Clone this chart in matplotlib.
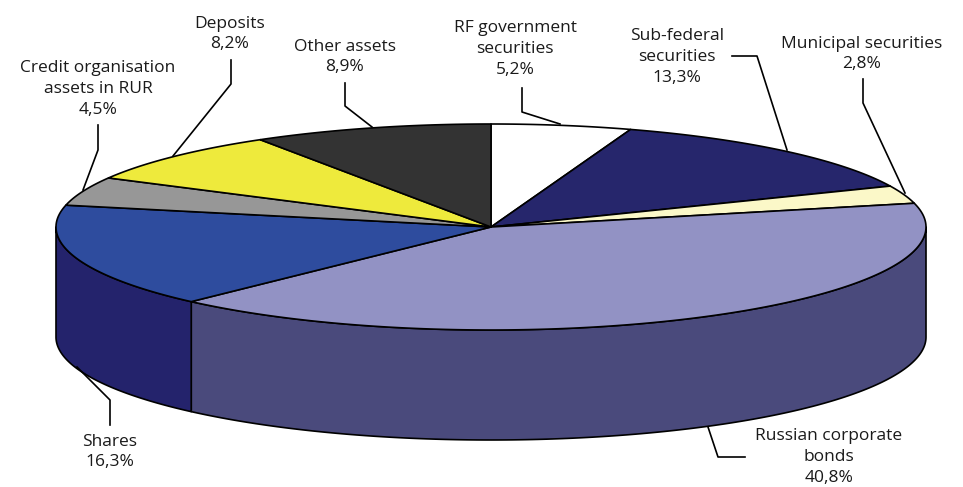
import numpy as np
import matplotlib.pyplot as plt
from matplotlib.patches import Polygon

# Portfolio structure (clockwise from 12 o'clock)
labels = ['RF government\nsecurities', 'Sub-federal\nsecurities', 'Municipal securities',
          'Russian corporate\nbonds', 'Shares', 'Credit organisation\nassets in RUR',
          'Deposits', 'Other assets']
values = [5.2, 13.3, 2.8, 40.8, 16.3, 4.5, 8.2, 8.9]

top_colors = ['#ffffff', '#26266c', '#fbf8c8', '#9292c4', '#2e4c9e', '#979797', '#eeea3c', '#333333']
side_colors = ['#d0d0d0', '#1a1a50', '#c8c59a', '#4a4a7c', '#24236c', '#6e6e6e', '#b5b22c', '#222222']

# label text centre, leader line path (pixels)
label_pos = [(515, 49), (677, 57), (862, 54), (829, 457), (110, 452), (98, 89), (230, 34), (345, 57)]
leaders = [
    [(522, 88), (522, 112), (560, 124)],
    [(732, 56), (757, 56), (787, 150)],
    [(863, 79), (863, 103), (905, 193)],
    [(745, 457), (718, 457), (708, 427)],
    [(110, 425), (110, 400), (77, 367)],
    [(98, 125), (98, 150), (83, 190)],
    [(231, 60), (231, 84), (173, 156)],
    [(345, 83), (345, 106), (372, 127)],
]

cx, cy = 491, 227
a, b = 435, 103
depth = 110


def arc(t1, t2, dz=0):
    t = np.radians(np.linspace(t1, t2, 200))
    return np.column_stack([cx + a * np.sin(t), cy - b * np.cos(t) + dz])


fig = plt.figure(figsize=(9.63, 4.87), dpi=100)
ax = fig.add_axes([0, 0, 1, 1])
ax.set_xlim(0, 963)
ax.set_ylim(487, 0)
ax.axis('off')

angles = np.concatenate([[0], np.cumsum(values) / sum(values) * 360])

# side walls (front half only)
for i in range(len(values)):
    t1, t2 = max(angles[i], 90), min(angles[i + 1], 270)
    if t2 <= t1:
        continue
    pts = np.vstack([arc(t1, t2), arc(t1, t2, depth)[::-1]])
    ax.add_patch(Polygon(pts, closed=True, facecolor=side_colors[i],
                         edgecolor='black', lw=1.2, joinstyle='round'))

# top faces
for i in range(len(values)):
    pts = np.vstack([[cx, cy], arc(angles[i], angles[i + 1])])
    ax.add_patch(Polygon(pts, closed=True, facecolor=top_colors[i],
                         edgecolor='black', lw=1.2, joinstyle='round'))

# labels and leader lines
for lab, v, pos, ld in zip(labels, values, label_pos, leaders):
    txt = lab + '\n' + f'{v:.1f}%'.replace('.', ',')
    ax.text(pos[0], pos[1], txt, ha='center', va='center', fontsize=12.5,
            family='Open Sans', color='#1a1a1a', linespacing=1.38)
    xs, ys = zip(*ld)
    ax.plot(xs, ys, color='black', lw=1.2)

fig.savefig('out.png', dpi=100)
